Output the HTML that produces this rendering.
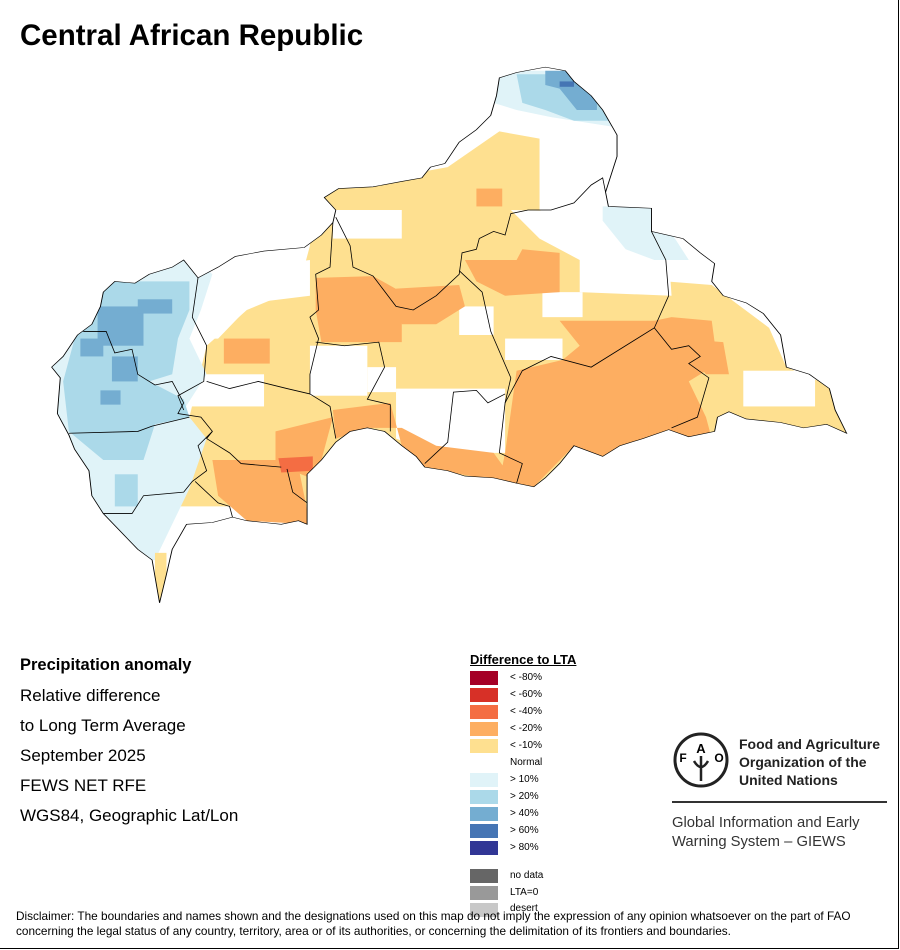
<!DOCTYPE html>
<html><head><meta charset="utf-8"><style>
body{margin:0;background:#fff}
#p{position:relative;width:898px;height:948px;border:1px solid #000;border-left:none;border-top:none;background:#fff;overflow:hidden;font-family:"Liberation Sans",sans-serif}
.t{position:absolute;white-space:nowrap}
.sw{position:absolute;left:470px;width:28px;height:14px}
.lb{position:absolute;left:510px;font-size:10px}
.l{font-size:17px;left:20px}
</style></head><body><div id="p">
<div class="t" style="left:20px;top:19px;font-size:29.5px;font-weight:bold">Central African Republic</div>
<svg style="position:absolute;left:0;top:60px" width="900" height="560" viewBox="0 0 1568 1568" preserveAspectRatio="none">
<defs><clipPath id="c"><polygon id="o" points="565,385 590,360 650,355 700,340 735,330 750,300 775,290 800,230 830,195 855,155 865,100 870,50 900,35 950,20 985,30 1000,60 1030,100 1050,140 1075,210 1075,270 1065,320 1055,370 1060,410 1135,415 1135,480 1190,500 1220,540 1245,570 1240,620 1260,660 1300,680 1330,710 1360,770 1370,860 1410,880 1445,920 1455,980 1475,1045 1440,1020 1400,1030 1360,1015 1300,1005 1270,985 1250,1000 1245,1040 1200,1055 1165,1035 1120,1060 1080,1080 1050,1110 1000,1080 975,1130 950,1170 930,1195 900,1185 860,1170 810,1165 780,1150 740,1140 725,1110 700,1080 670,1040 640,1030 610,1040 585,1070 560,1120 535,1160 535,1300 520,1290 490,1300 460,1295 430,1290 405,1280 370,1295 325,1300 300,1370 290,1440 278,1520 265,1400 240,1370 210,1320 180,1270 160,1220 155,1150 130,1090 120,1050 100,990 105,890 90,860 110,830 135,770 160,740 175,690 180,650 200,620 235,625 260,600 300,580 320,560 345,610 380,580 410,550 460,535 530,525 560,490 580,455 585,420"/></clipPath></defs>
<g clip-path="url(#c)">
<rect x="0" y="0" width="1568" height="1568" fill="#fff"/>
<polygon fill="#fee090" points="540,370 780,300 870,200 940,220 940,420 1010,490 1010,560 1160,620 1240,630 1340,750 1370,860 1500,950 1500,1250 300,1250 330,1000 360,800 430,700 520,640 540,520"/>
<g fill="#fff">
<rect x="580" y="420" width="120" height="80"/>
<polygon points="890,420 1160,430 1170,660 1010,650 1010,560 940,500"/>
<rect x="945" y="650" width="70" height="70"/>
<rect x="880" y="780" width="100" height="60"/>
<polygon points="690,920 880,920 880,1100 760,1100 690,1060"/>
<rect x="1295" y="870" width="125" height="100"/>
<rect x="540" y="800" width="100" height="140"/>
<polygon points="340,600 540,560 540,660 440,680 380,780 340,780"/>
<rect x="320" y="880" width="140" height="90"/>
<rect x="800" y="690" width="60" height="80"/>
<rect x="640" y="860" width="50" height="70"/>
</g>
<g fill="#fdae61">
<polygon points="550,610 650,605 700,650 700,790 560,790 550,700"/>
<polygon points="690,640 800,630 810,690 760,740 700,740"/>
<polygon points="810,560 900,560 910,530 975,540 975,650 880,660 830,620"/>
<polygon points="975,730 1140,730 1170,720 1240,730 1250,850 1200,900 1230,1000 1240,1060 1050,1110 1000,1080 930,1195 870,1180 880,1100 900,870 980,840 1010,800"/>
<polygon points="1180,780 1260,790 1270,880 1230,880"/>
<polygon points="580,980 680,960 700,1080 740,1140 900,1190 860,1100 760,1080 700,1030 640,1030 585,1060"/>
<polygon points="480,1040 580,1000 560,1120 540,1170 480,1130"/>
<polygon points="370,1120 480,1120 520,1140 540,1300 430,1290 380,1220"/>
<rect x="390" y="780" width="80" height="70"/>
<rect x="830" y="360" width="45" height="50"/>
<rect x="1130" y="990" width="50" height="50"/>
</g>
<polygon fill="#f46d43" points="485,1115 545,1110 545,1150 490,1155"/>
<g fill="#e0f3f8">
<polygon points="80,560 330,540 370,600 350,700 330,780 360,880 320,980 360,1060 330,1200 300,1300 270,1400 120,1400 80,1100"/>
<polygon points="860,30 1080,30 1080,190 960,160 900,140 860,120"/>
<polygon points="1050,410 1140,410 1200,560 1140,560 1090,530 1050,450"/>
</g>
<g fill="#abd9e9">
<polygon points="160,620 330,620 330,700 310,780 300,880 260,900 320,950 330,1000 270,1020 250,1120 180,1120 120,1040 110,900 130,780"/>
<rect x="200" y="1160" width="40" height="90"/>
<polygon points="900,40 1060,40 1060,170 1000,170 950,140 910,120"/>
</g>
<g fill="#74add1">
<rect x="170" y="690" width="80" height="110"/>
<rect x="240" y="670" width="60" height="40"/>
<rect x="195" y="830" width="45" height="70"/>
<rect x="175" y="925" width="35" height="40"/>
<rect x="140" y="780" width="40" height="50"/>
<polygon points="950,30 995,30 1040,100 1040,140 1005,140 975,80 950,70"/>
</g>
<rect x="975" y="60" width="25" height="15" fill="#4575b4"/>
<rect x="270" y="1380" width="20" height="140" fill="#fee090"/>
</g>
<g fill="none" stroke="#000" stroke-width="0.8">
<polyline vector-effect="non-scaling-stroke" points="585,440 610,520 615,580 650,605 690,690 720,700 760,660 800,600 805,540 830,530 835,500 860,480 880,490 890,430 920,420 960,420 1000,400 1030,350 1050,330 1055,370"/>
<polyline vector-effect="non-scaling-stroke" points="580,455 575,580 550,600 555,700 540,720 555,780 540,880 540,935 575,970 585,1060"/>
<polyline vector-effect="non-scaling-stroke" points="550,790 600,800 660,790 670,860 640,950 680,965 680,1040"/>
<polyline vector-effect="non-scaling-stroke" points="800,590 840,650 855,760 890,890 880,960 870,1100 910,1130 900,1185"/>
<polyline vector-effect="non-scaling-stroke" points="740,1130 780,1070 790,930 830,925 850,960 880,935"/>
<polyline vector-effect="non-scaling-stroke" points="880,960 910,870 960,830 1030,860 1140,750 1165,660 1160,560 1135,480"/>
<polyline vector-effect="non-scaling-stroke" points="1140,750 1170,810 1200,800 1220,830 1200,850 1235,890 1215,1000 1170,1030"/>
<polyline vector-effect="non-scaling-stroke" points="345,610 335,720 360,800 355,900 310,940 320,980"/>
<polyline vector-effect="non-scaling-stroke" points="145,760 185,760 200,820 230,810 240,880 270,910 300,900 320,960 310,990 350,1000 370,1040 360,1060 400,1100 420,1130 490,1140"/>
<polyline vector-effect="non-scaling-stroke" points="360,900 400,920 450,900 500,920 540,935"/>
<polyline vector-effect="non-scaling-stroke" points="120,1045 240,1040 265,1025 330,1000"/>
<polyline vector-effect="non-scaling-stroke" points="370,1040 345,1080 360,1150 335,1180 320,1210 250,1220 230,1270 180,1270"/>
<polyline vector-effect="non-scaling-stroke" points="340,1180 380,1240 400,1250 405,1280"/>
<polyline vector-effect="non-scaling-stroke" points="500,1145 510,1210 535,1240"/>
</g>
<use href="#o" fill="none" stroke="#000" stroke-width="1.6" vector-effect="non-scaling-stroke"/>
</svg>
<div class="t l" style="top:656px;font-weight:bold;font-size:16.5px">Precipitation anomaly</div>
<div class="t l" style="top:686px">Relative difference</div>
<div class="t l" style="top:716px">to Long Term Average</div>
<div class="t l" style="top:746px">September 2025</div>
<div class="t l" style="top:776px">FEWS NET RFE</div>
<div class="t l" style="top:806px">WGS84, Geographic Lat/Lon</div>
<div class="t" style="left:470px;top:652px;font-size:13px;font-weight:bold;text-decoration:underline">Difference to LTA</div>
<div class="sw" style="top:671px;background:#a50026"></div><div class="lb" style="top:672px">&lt; -80%</div>
<div class="sw" style="top:688px;background:#d73027"></div><div class="lb" style="top:689px">&lt; -60%</div>
<div class="sw" style="top:705px;background:#f46d43"></div><div class="lb" style="top:706px">&lt; -40%</div>
<div class="sw" style="top:722px;background:#fdae61"></div><div class="lb" style="top:723px">&lt; -20%</div>
<div class="sw" style="top:739px;background:#fee090"></div><div class="lb" style="top:740px">&lt; -10%</div>
<div class="lb" style="top:757px">Normal</div>
<div class="sw" style="top:773px;background:#e0f3f8"></div><div class="lb" style="top:774px">&gt; 10%</div>
<div class="sw" style="top:790px;background:#abd9e9"></div><div class="lb" style="top:791px">&gt; 20%</div>
<div class="sw" style="top:807px;background:#74add1"></div><div class="lb" style="top:808px">&gt; 40%</div>
<div class="sw" style="top:824px;background:#4575b4"></div><div class="lb" style="top:825px">&gt; 60%</div>
<div class="sw" style="top:841px;background:#313695"></div><div class="lb" style="top:842px">&gt; 80%</div>
<div class="sw" style="top:869px;background:#666"></div><div class="lb" style="top:870px">no data</div>
<div class="sw" style="top:886px;background:#999"></div><div class="lb" style="top:887px">LTA=0</div>
<div class="sw" style="top:903px;background:#c8c8c8"></div><div class="lb" style="top:903px">desert</div>
<svg style="position:absolute;left:672px;top:731px" width="58" height="58" viewBox="0 0 58 58">
<circle cx="29" cy="29" r="26" fill="none" stroke="#222" stroke-width="3"/>
<text x="29" y="22" font-size="13" font-weight="bold" text-anchor="middle" font-family="Liberation Sans">A</text>
<text x="11" y="31" font-size="12" font-weight="bold" text-anchor="middle" font-family="Liberation Sans">F</text>
<text x="47" y="31" font-size="12" font-weight="bold" text-anchor="middle" font-family="Liberation Sans">O</text>
<path d="M29 25 V50 M22 30 Q29 42 36 30" stroke="#222" stroke-width="2.5" fill="none"/>
</svg>
<div class="t" style="left:739px;top:735px;font-size:14px;font-weight:bold;line-height:18px;color:#222">Food and Agriculture<br>Organization of the<br>United Nations</div>
<div style="position:absolute;left:672px;top:801px;width:215px;height:2px;background:#333"></div>
<div class="t" style="left:672px;top:814px;font-size:14.8px;line-height:19px;color:#333">Global Information and Early<br>Warning System – GIEWS</div>
<div class="t" style="left:16px;top:909px;font-size:11.8px;line-height:15px;color:#000">Disclaimer: The boundaries and names shown and the designations used on this map do not imply the expression of any opinion whatsoever on the part of FAO<br>concerning the legal status of any country, territory, area or of its authorities, or concerning the delimitation of its frontiers and boundaries.</div>
</div></body></html>
